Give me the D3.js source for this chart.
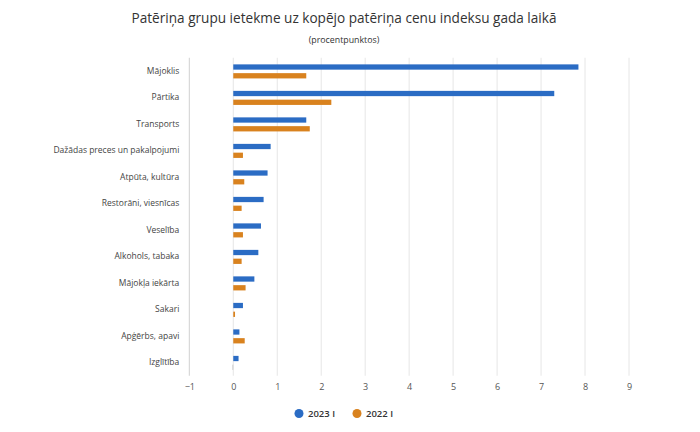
<!DOCTYPE html>
<html lang="lv">
<head>
<meta charset="UTF-8">
<title>Patēriņa grupu ietekme</title>
<style>
	body { margin: 0; background: #fff; }
	.grid line { stroke: #e6e6e6; }
	.axis text { fill: #555; font: 9px "Open Sans", sans-serif; }
	.cat text { fill: #444; font: 8.5px "Open Sans", sans-serif; }
</style>
</head>
<body>
<svg id="chart" width="700" height="432"></svg>
<script src="https://d3js.org/d3.v7.min.js"></script>
<script>
	var categories = ["Mājoklis", "Pārtika", "Transports", "Dažādas preces un pakalpojumi",
		"Atpūta, kultūra", "Restorāni, viesnīcas", "Veselība", "Alkohols, tabaka",
		"Mājokļa iekārta", "Sakari", "Apģērbs, apavi", "Izglītība"];
	var series2023 = [7.85, 7.30, 1.66, 0.85, 0.78, 0.69, 0.63, 0.57, 0.48, 0.22, 0.14, 0.12];
	var series2022 = [1.66, 2.23, 1.74, 0.22, 0.25, 0.19, 0.22, 0.19, 0.28, 0.04, 0.26, -0.02];
	var seriesNames = ["2023 I", "2022 I"];
	var xTicks = [-1, 0, 1, 2, 3, 4, 5, 6, 7, 8, 9];

	var colors = ["#2b6cc4", "#d9821e"];
	var margin = { top: 57.75, left: 189.3, right: 71, bottom: 56.25 };
	var width = 700 - margin.left - margin.right,
	    height = 432 - margin.top - margin.bottom;
	var centerX = 344;

	var svg = d3.select("#chart");

	svg.append("text")
	    .attr("x", centerX).attr("y", 23)
	    .attr("text-anchor", "middle")
	    .style("font", "13.6px 'Open Sans', sans-serif")
	    .style("fill", "#333")
	    .text("Patēriņa grupu ietekme uz kopējo patēriņa cenu indeksu gada laikā");

	svg.append("text")
	    .attr("x", centerX).attr("y", 43)
	    .attr("text-anchor", "middle")
	    .style("font", "8.8px 'Open Sans', sans-serif")
	    .style("fill", "#333")
	    .text("(procentpunktos)");

	var g = svg.append("g").attr("transform", "translate(" + margin.left + "," + margin.top + ")");

	var x = d3.scaleLinear().domain([-1, 9]).range([0, width]);
	var y = d3.scaleBand().domain(categories).range([0, height]);
	var inner = d3.scaleBand().domain(seriesNames).range([y.bandwidth() * 0.25, y.bandwidth() * 0.78]).paddingInner(0.4);

	g.append("g").attr("class", "grid")
	    .selectAll("line").data(xTicks).enter().append("line")
	    .attr("x1", d => x(d)).attr("x2", d => x(d))
	    .attr("y1", 0).attr("y2", height)
	    .style("stroke", d => d === -1 ? "#d0d0d0" : "#e6e6e6");

	var xAxis = g.append("g").attr("class", "axis")
	    .attr("transform", "translate(0," + height + ")")
	    .call(d3.axisBottom(x).tickValues(xTicks).tickSize(0).tickPadding(8).tickFormat(d => d < 0 ? "\u2212" + Math.abs(d) : d));
	xAxis.select(".domain").remove();

	var yAxis = g.append("g").attr("class", "cat")
	    .attr("transform", "translate(-10,0)")
	    .call(d3.axisLeft(y).tickSize(0).tickPadding(0));
	yAxis.select(".domain").remove();

	var rows = categories.map(function(c, i) {
		return { cat: c, values: [series2023[i], series2022[i]] };
	});

	var group = g.selectAll(".row").data(rows).enter().append("g")
	    .attr("class", "row")
	    .attr("transform", d => "translate(0," + y(d.cat) + ")");

	group.selectAll("rect")
	    .data(d => d.values.map((v, k) => ({ name: seriesNames[k], value: v, k: k })))
	    .enter().append("rect")
	    .attr("x", d => x(Math.min(0, d.value)))
	    .attr("y", d => inner(d.name))
	    .attr("width", d => Math.abs(x(d.value) - x(0)))
	    .attr("height", inner.bandwidth())
	    .attr("fill", d => d.value < 0 ? "#c9c9c9" : colors[d.k]);

	var legend = svg.append("g").attr("transform", "translate(0,413.5)");
	var legendX = [299, 357];
	var item = legend.selectAll("g").data(seriesNames).enter().append("g")
	    .attr("transform", (d, i) => "translate(" + legendX[i] + ",0)");
	item.append("circle").attr("r", 4.5).attr("fill", (d, i) => colors[i]);
	item.append("text")
	    .attr("x", 9).attr("dy", "0.35em")
	    .style("font", "600 9.5px 'Open Sans', sans-serif")
	    .style("fill", "#333")
	    .text(d => d);
</script>
</body>
</html>
